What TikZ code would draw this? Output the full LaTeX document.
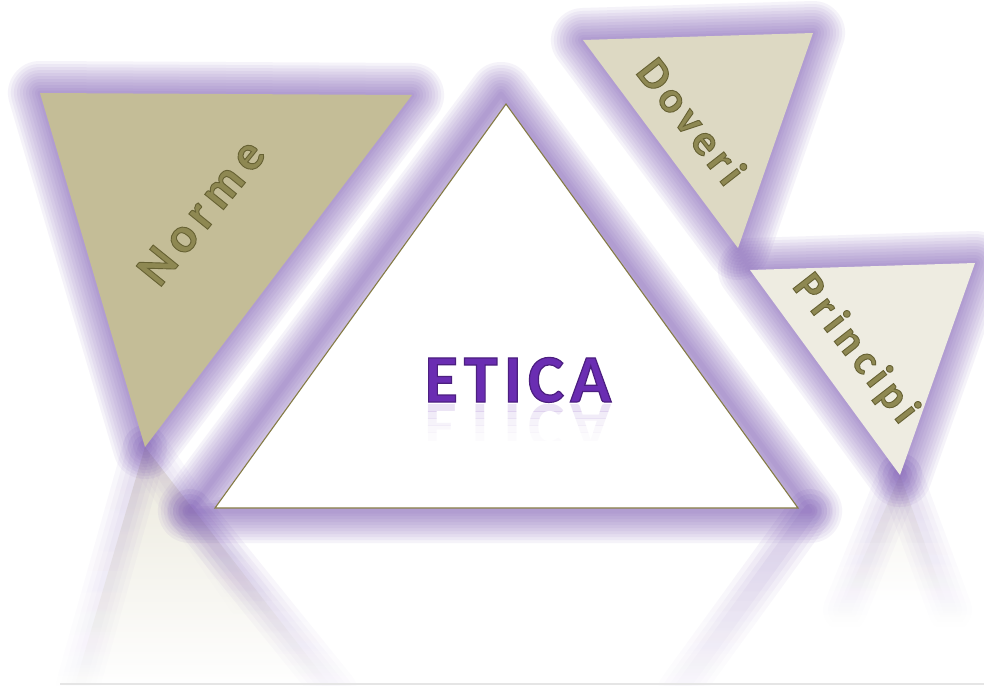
\documentclass[tikz,border=0pt]{standalone}
\usepackage{fontspec}
\setmainfont{Carlito}
\newfontfamily\nfont[LetterSpace=14]{Carlito}
\newfontfamily\dfont[LetterSpace=12]{Carlito}
\newfontfamily\pfont[LetterSpace=14]{Carlito}
\newfontfamily\etfont[LetterSpace=9]{Carlito}
\usetikzlibrary{fadings}
\definecolor{khakiA}{HTML}{C4BD97}
\definecolor{khakiB}{HTML}{DDD9C3}
\definecolor{khakiC}{HTML}{EEECE1}
\definecolor{glowc}{HTML}{6E48AE}
\definecolor{edgec}{HTML}{857B45}
\definecolor{txtc}{HTML}{8E8852}
\definecolor{eticac}{HTML}{6A2DB2}
\tikzfading[name=fadedown, top color=transparent!25, bottom color=transparent!100]
\newcommand\myglow[1]{%
  \foreach \w in {64,58,52,46,40,34,28,22,16,10,5}{\draw[glowc, line width=\w pt, opacity=0.062, line join=round] #1;}}
\newcommand\outl[2]{\special{pdf:literal direct 2 Tr #1 w #2 RG}}
\newcommand\outloff{\special{pdf:literal direct 0 Tr}}
\tikzset{
  lbl/.style={font=\nfont\bfseries\fontsize{50}{50}\selectfont, text=txtc, inner sep=0pt},
  lbls/.style={font=\dfont\bfseries\fontsize{44}{44}\selectfont, text=txtc, inner sep=0pt},
  lblp/.style={font=\pfont\bfseries\fontsize{43}{43}\selectfont, text=txtc, inner sep=0pt},
  etstyle/.style={font=\etfont\bfseries\fontsize{68}{68}\selectfont, text=eticac, anchor=base, inner sep=0pt},
  refglow/.style={glowc, line cap=round, path fading=fadedown},
}
\begin{document}
\begin{tikzpicture}[x=1pt,y=-1pt]
\useasboundingbox (0,0) rectangle (984,685);
\fill[white] (0,0) rectangle (984,685);
% coordinates
\coordinate (na) at (40,93); \coordinate (nb) at (412,95); \coordinate (nc) at (145,447);
\coordinate (ca) at (506,104); \coordinate (cl) at (215,508); \coordinate (cr) at (798,508);
\coordinate (ga) at (501,94); \coordinate (gl) at (190,511); \coordinate (gr) at (810,511);
\coordinate (da) at (583,40); \coordinate (db) at (813,33); \coordinate (dc) at (738,248);
\coordinate (pa) at (750,270); \coordinate (pb) at (975,263); \coordinate (pc) at (900,475);
% reflections
\fill[khakiA, opacity=0.45, path fading=fadedown] (nc) -- (75,685) -- (330,685) -- cycle;
\fill[khakiC, opacity=0.9, path fading=fadedown] (pc) -- (845,600) -- (945,600) -- cycle;
\foreach \w in {44,34,24,14}{%
  \draw[refglow, line width=\w pt, opacity=0.07] (nc) -- (78,685);
  \draw[refglow, line width=\w pt, opacity=0.06] (nc) -- (250,600);
  \draw[refglow, line width=\w pt, opacity=0.11] (gl) -- (335,690);
  \draw[refglow, line width=\w pt, opacity=0.11] (gr) -- (680,690);
  \draw[refglow, line width=\w pt, opacity=0.08] (pc) -- (845,610);
  \draw[refglow, line width=\w pt, opacity=0.08] (pc) -- (950,610);
}
% glows
\myglow{(na) -- (nb) -- (nc) -- cycle}
\myglow{(ga) -- (gl) -- (gr) -- cycle}
\myglow{(da) -- (db) -- (dc) -- cycle}
\myglow{(pa) -- (pb) -- (pc) -- cycle}
% triangles
\fill[khakiA] (na) -- (nb) -- (nc) -- cycle;
\fill[khakiB] (da) -- (db) -- (dc) -- cycle;
\fill[khakiC] (pa) -- (pb) -- (pc) -- cycle;
\filldraw[fill=white, draw=edgec, line width=1.1pt, line join=miter] (ca) -- (cl) -- (cr) -- cycle;
% labels
\node[lbl, rotate=51] (norme) at (201,212) {\outl{0.9}{0.40 0.38 0.20}Norme\outloff};
\node[lbls, rotate=-52] (doveri) at (692,121) {\outl{0.9}{0.40 0.38 0.20}Doveri\outloff};
\node[lblp, rotate=-52] (principi) at (855,349) {\outl{0.9}{0.40 0.38 0.20}Principi\outloff};
% ETICA reflection (fading bands)
\foreach \ya/\yb/\op in {404/411/0.13, 411/418/0.09, 418/425/0.055, 425/432/0.03, 432/440/0.015}{%
  \begin{scope}
  \clip (380,\ya) rectangle (650,\yb);
  \node[etstyle, opacity=\op] (eticarefl) at (518,404) {\scalebox{1}[-1]{ETICA}};
  \end{scope}
}
\node[etstyle] (etica) at (518,402) {\outl{1.2}{0.30 0.12 0.50}ETICA\outloff};
% floor line
\draw[black!10, line width=1.5pt] (60,684) -- (984,684);
\end{tikzpicture}
\end{document}
